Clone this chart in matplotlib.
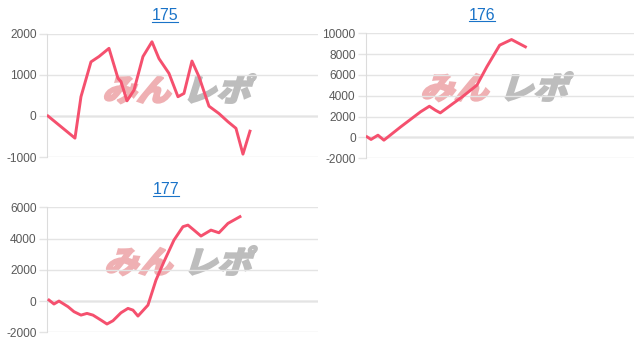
import matplotlib
matplotlib.use("Agg")
import matplotlib.pyplot as plt
from matplotlib.textpath import TextPath
from matplotlib.patches import PathPatch
from matplotlib.font_manager import FontProperties
from matplotlib.transforms import Affine2D
from matplotlib.lines import Line2D

plt.rcParams["font.family"] = ["Liberation Sans", "DejaVu Sans"]
plt.rcParams["axes.unicode_minus"] = False

# 台番号ごとの差枚推移 (x: 進行位置, y: 差枚)
titles = ["175", "176", "177"]

x175 = [0, 27, 33, 43, 51, 61, 70, 73, 79, 86, 95, 104, 111, 121, 130, 136,
        144, 151, 161, 171, 180, 188, 195, 202]
y175 = [0, -540, 470, 1320, 1450, 1650, 920, 840, 370, 630, 1450, 1810, 1400,
        1040, 470, 550, 1340, 960, 240, 60, -140, -300, -930, -370]

x176 = [0, 4, 11, 17, 34, 54, 63, 69, 74, 86, 97, 111, 121, 134, 146, 160]
y176 = [60, -190, 220, -260, 1020, 2460, 3000, 2620, 2360, 3200, 3960, 5020,
        6780, 8860, 9400, 8700]

x177 = [1, 6, 11, 20, 26, 33, 39, 45, 53, 59, 65, 73, 80, 85, 90, 100, 108,
        116, 126, 135, 140, 146, 153, 163, 171, 180, 192]
y177 = [64, -190, 0, -360, -680, -900, -790, -900, -1220, -1470, -1260, -750,
        -470, -580, -960, -260, 1340, 2520, 3900, 4760, 4860, 4540, 4160, 4540,
        4370, 4970, 5400]

x_span = 270
ylims = [(-1000, 2000), (-2000, 10000), (-2000, 6000)]
yticks = [[-1000, 0, 1000, 2000],
          [-2000, 0, 2000, 4000, 6000, 8000, 10000],
          [-2000, 0, 2000, 4000, 6000]]

line_color = "#f5506e"
title_color = "#1a73c8"

fig = plt.figure(figsize=(6.4, 3.44), dpi=100)

# [left, bottom, width, height] in figure fraction
boxes = [[0.0734, 0.5436, 0.4234, 0.3576],
         [0.572, 0.5398, 0.419, 0.3634],
         [0.0734, 0.034, 0.4234, 0.3634]]
title_pos = [(165, 16), (482, 15), (166, 190)]
# watermark: left of "みん", left of "レポ", baseline (pixels from top)
wm_pos = [(102, 182, 101), (420, 499, 99), (104, 183, 273)]

series = [(x175, y175), (x176, y176), (x177, y177)]

fp = FontProperties(family="Noto Sans CJK JP", weight="black")


def watermark(ax, text, x, y, color):
    tp = TextPath((0, 0), text, size=1, prop=fp)
    tr = Affine2D().skew_deg(16, 0).scale(34, 31).translate(x, 344 - y)
    ax.add_patch(PathPatch(tp, transform=tr, facecolor=color, edgecolor=color,
                           lw=1.3, zorder=0.5))


title_texts = []
for i in range(3):
    ax = fig.add_axes(boxes[i])
    ax.set_facecolor("none")
    xs, ys = series[i]
    wx1, wx2, wy = wm_pos[i]
    watermark(ax, "みん", wx1, wy, "#efb0b3")
    watermark(ax, "レポ", wx2, wy, "#bdbdbd")
    ax.plot(xs, ys, color=line_color, lw=2.1, zorder=3, solid_joinstyle="round")
    ax.set_xlim(-1, x_span)
    ax.set_ylim(*ylims[i])
    ax.set_yticks(yticks[i])
    ax.set_xticks([])
    ax.yaxis.grid(True, color="#e4e4e4", lw=1)
    ax.axhline(0, color="#b4b4b4", lw=1, zorder=1)
    for s in ["top", "right", "bottom"]:
        ax.spines[s].set_visible(False)
    ax.spines["left"].set_color("#dcdcdc")
    ax.tick_params(axis="y", length=6, width=1, color="#e4e4e4", pad=1.5,
                   labelsize=8.6, labelcolor="#5a5a5a")
    tx, ty = title_pos[i]
    t = fig.text(tx / 640, 1 - ty / 344, titles[i],
                 ha="center", va="center", fontsize=11.5, color=title_color)
    title_texts.append(t)

# 下線 (リンク風)
fig.canvas.draw()
r = fig.canvas.get_renderer()
for t in title_texts:
    bb = t.get_window_extent(r)
    yl = (bb.y0 + 1.5) / 344
    fig.add_artist(Line2D([bb.x0 / 640, bb.x1 / 640], [yl, yl],
                          color=title_color, lw=0.8))

fig.savefig("out.png", dpi=100)
